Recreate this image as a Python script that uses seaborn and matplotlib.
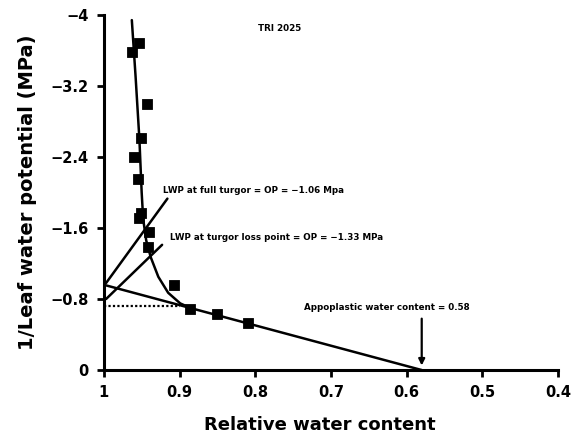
import matplotlib
matplotlib.use("Agg")
import matplotlib.pyplot as plt
import seaborn as sns
import pandas as pd

# Observed points (relative water content, 1/leaf water potential)
rwc_obs = [0.963, 0.954, 0.943, 0.951, 0.960, 0.955, 0.951, 0.954, 0.940, 0.942, 0.907, 0.886, 0.851, 0.809]
lwp_obs = [-3.58, -3.68, -3.00, -2.61, -2.40, -2.15, -1.77, -1.71, -1.55, -1.39, -0.96, -0.69, -0.63, -0.53]

# Fitted curve (drawn by hand in the original)
rwc_curve = [0.963, 0.958, 0.953, 0.950, 0.948, 0.944, 0.938, 0.928, 0.915, 0.899, 0.883]
lwp_curve = [-3.94, -3.30, -2.60, -2.00, -1.70, -1.46, -1.27, -1.05, -0.87, -0.75, -0.69]

# Linear part, extrapolated to both axes
rwc_lin = [1.0, 0.58]
lwp_lin = [-0.96, 0.0]

# Pointer lines for annotations
rwc_ptr_full = [0.997, 0.916]
lwp_ptr_full = [-0.98, -1.93]
rwc_ptr_tlp = [0.997, 0.923]
lwp_ptr_tlp = [-0.80, -1.41]

# Dotted turgor-loss level
rwc_dot = [1.0, 0.90]
lwp_dot = [-0.72, -0.72]

x_ticks = [1, 0.9, 0.8, 0.7, 0.6, 0.5, 0.4]
x_tick_labels = ["1", "0.9", "0.8", "0.7", "0.6", "0.5", "0.4"]
y_ticks = [0, -0.8, -1.6, -2.4, -3.2, -4]
y_tick_labels = ["0", "\u22120.8", "\u22121.6", "\u22122.4", "\u22123.2", "\u22124"]

sns.set_style("ticks")
plt.rcParams['font.family'] = ['DejaVu Sans']
plt.rcParams.update({
    "text.color": "black",
    "axes.labelcolor": "black",
    "xtick.color": "black",
    "ytick.color": "black",
    "axes.edgecolor": "black",
})

fig = plt.figure(figsize=(5.8, 4.48), dpi=100)
ax = fig.add_axes([0.179, 0.174, 0.783, 0.793])

lw = 1.8
sns.lineplot(x=rwc_curve, y=lwp_curve, sort=False, estimator=None, color="black", lw=lw, ax=ax)
sns.lineplot(x=rwc_lin, y=lwp_lin, sort=False, estimator=None, color="black", lw=lw, ax=ax)
sns.lineplot(x=rwc_ptr_full, y=lwp_ptr_full, sort=False, estimator=None, color="black", lw=lw, ax=ax)
sns.lineplot(x=rwc_ptr_tlp, y=lwp_ptr_tlp, sort=False, estimator=None, color="black", lw=lw, ax=ax)
ax.plot(rwc_dot, lwp_dot, color="black", lw=1.6, ls=(0, (1, 1)))
sns.scatterplot(x=rwc_obs, y=lwp_obs, marker="s", s=55, color="black", edgecolor="black", ax=ax, zorder=5)

ax.annotate("", xy=(0.58, -0.02), xytext=(0.58, -0.61),
            arrowprops=dict(arrowstyle="-|>", color="black", lw=1.6, mutation_scale=9))

tf = dict(fontsize=6.3, fontweight="bold", color="black", va="center", ha="left")
ax.text(0.922, -2.02, "LWP at full turgor = OP = \u22121.06 Mpa", **tf)
ax.text(0.912, -1.49, "LWP at turgor loss point = OP = \u22121.33 MPa", **tf)
ax.text(0.736, -0.70, "Appoplastic water content = 0.58", **tf)
ax.text(0.796, -3.85, "TRI 2025", **tf)

ax.set_xlim(1, 0.4)
ax.set_ylim(0, -4)
ax.set_xticks(x_ticks)
ax.set_xticklabels(x_tick_labels)
ax.set_yticks(y_ticks)
ax.set_yticklabels(y_tick_labels)
for lab in ax.get_xticklabels() + ax.get_yticklabels():
    lab.set_fontweight("bold")
    lab.set_fontsize(10.5)
    lab.set_color("black")
ax.tick_params(direction="out", length=5, width=2, pad=6, colors="black")

ax.set_xlabel("Relative water content", fontsize=13, fontweight="bold", color="black")
ax.set_ylabel("1/Leaf water potential (MPa)", fontsize=14, fontweight="bold", color="black")
ax.xaxis.set_label_coords(0.476, -0.128)
ax.yaxis.set_label_coords(-0.148, 0.5)

for side in ["top", "right"]:
    ax.spines[side].set_visible(False)
for side in ["left", "bottom"]:
    ax.spines[side].set_linewidth(2.2)
    ax.spines[side].set_color("black")

fig.savefig("out.png", dpi=100, facecolor="white")
